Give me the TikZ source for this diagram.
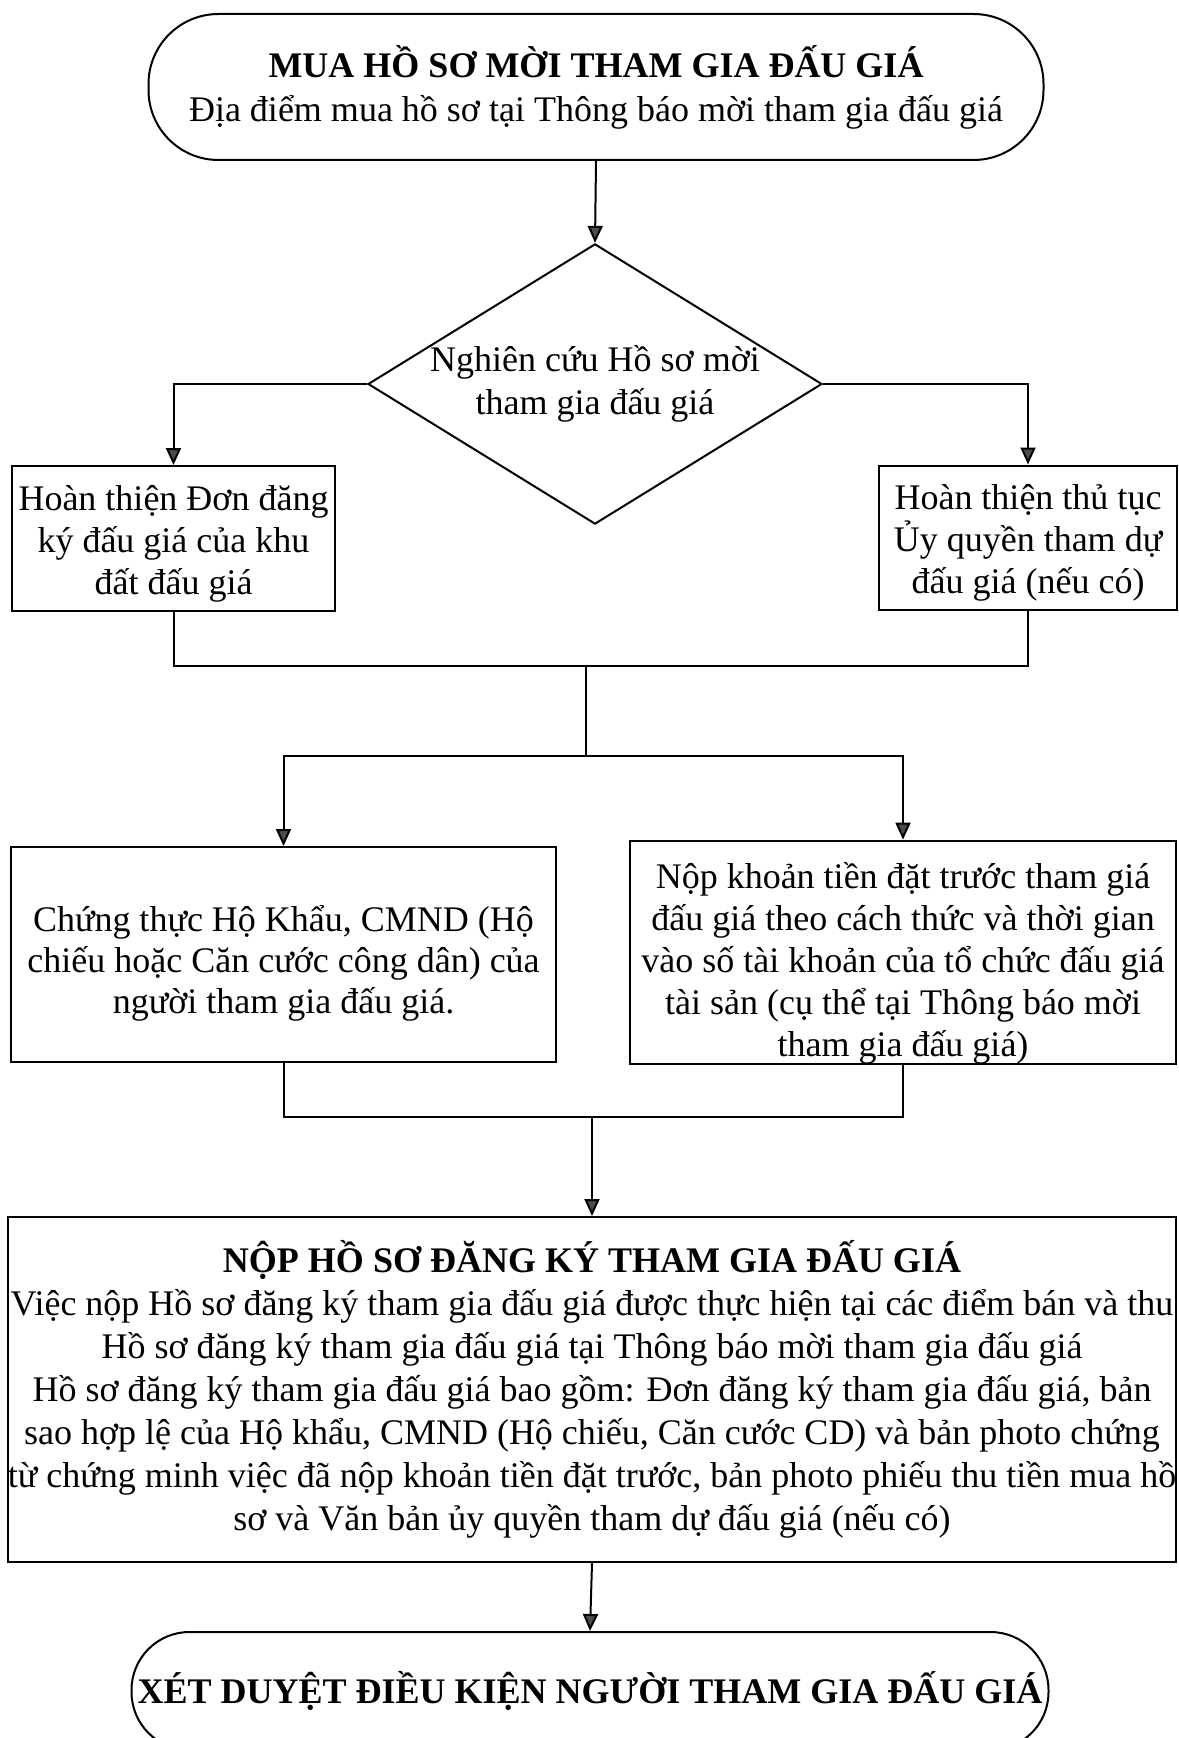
\documentclass[tikz,border=0pt]{standalone}
\usepackage{fontspec}
\setmainfont{Liberation Serif}
\usepackage{tikz}
\usepgflibrary{arrows.meta}
\usetikzlibrary{arrows.meta,shapes.geometric}

\begin{document}
\begin{tikzpicture}
	[x=0.5pt,y=-0.5pt,line width=1pt,
	 box/.style={draw,rectangle,align=center,inner sep=0pt},
	 term/.style={draw,rectangle,align=center,inner sep=0pt},
	 decide/.style={draw,diamond,aspect=1.62,align=center,inner sep=0pt},
	 arr/.style={-{Triangle[length=8.5pt,width=7.5pt,fill=black!70]}}]
	\useasboundingbox (0,0) rectangle (1178,1738);
	\clip (0,0) rectangle (1178,1738);
	% start and end
	\node[term,rounded corners=35pt,minimum width=447.5pt,minimum height=73pt,
		font=\fontsize{18}{22}\selectfont] (buy) at (596,87)
		{\textbf{MUA HỒ SƠ MỜI THAM GIA ĐẤU GIÁ}\\Địa điểm mua hồ sơ tại Thông báo mời tham gia đấu giá};
	\node[term,rounded corners=29pt,minimum width=458.5pt,minimum height=59pt,
		font=\fontsize{18}{22}\selectfont] (review) at (590,1691)
		{\textbf{XÉT DUYỆT ĐIỀU KIỆN NGƯỜI THAM GIA ĐẤU GIÁ}};
	% decision
	\node[decide,minimum width=224.5pt,minimum height=138.5pt,
		font=\fontsize{18}{21.5}\selectfont] (study) at (595,384)
		{Nghiên cứu Hồ sơ mời\\tham gia đấu giá};
	% boxes (the rule lifts the top so the text sits a little lower)
	\node[box,minimum width=161.5pt,minimum height=72.5pt,
		font=\fontsize{18}{21}\selectfont] (form) at (173.5,538.5)
		{\rule{0pt}{17.5pt}Hoàn thiện Đơn đăng\\ký đấu giá của khu\\đất đấu giá};
	\node[box,minimum width=149pt,minimum height=72pt,
		font=\fontsize{18}{21}\selectfont] (proxy) at (1028,537.5)
		{\rule{0pt}{17.5pt}Hoàn thiện thủ tục\\Ủy quyền tham dự\\đấu giá (nếu có)};
	\node[box,minimum width=272.5pt,minimum height=107.5pt,
		font=\fontsize{18}{20.5}\selectfont] (certify) at (283.5,954.5)
		{\rule{0pt}{21.5pt}Chứng thực Hộ Khẩu, CMND (Hộ\\chiếu hoặc Căn cước công dân) của\\người tham gia đấu giá.};
	\node[box,minimum width=273pt,minimum height=107.5pt,
		font=\fontsize{18}{21}\selectfont] (deposit) at (903,952.5)
		{\rule{0pt}{24pt}Nộp khoản tiền đặt trước tham giá\\đấu giá theo cách thức và thời gian\\vào số tài khoản của tổ chức đấu giá\\tài sản (cụ thể tại Thông báo mời\\tham gia đấu giá)};
	\node[box,minimum width=579pt,minimum height=172.5pt,
		font=\fontsize{18}{21.5}\selectfont] (submit) at (592,1389.5)
		{\textbf{NỘP HỒ SƠ ĐĂNG KÝ THAM GIA ĐẤU GIÁ}\\
		Việc nộp Hồ sơ đăng ký tham gia đấu giá được thực hiện tại các điểm bán và thu\\
		Hồ sơ đăng ký tham gia đấu giá tại Thông báo mời tham gia đấu giá\\
		Hồ sơ đăng ký tham gia đấu giá bao gồm: Đơn đăng ký tham gia đấu giá, bản\\
		sao hợp lệ của Hộ khẩu, CMND (Hộ chiếu, Căn cước CD) và bản photo chứng\\
		từ chứng minh việc đã nộp khoản tiền đặt trước, bản photo phiếu thu tiền mua hồ\\
		sơ và Văn bản ủy quyền tham dự đấu giá (nếu có)};
	% joints
	\coordinate (j1) at (586,666);
	\coordinate (s1) at (586,756);
	\coordinate (j2) at (592,1117);
	% arrows
	\draw[arr] (buy.south) -- (study.north);
	\draw[arr] (study.west) -| (form.north);
	\draw[arr] (study.east) -| (proxy.north);
	\draw (form.south) |- (j1) -| (proxy.south);
	\draw (j1) -- (s1);
	\foreach \n in {certify,deposit}
		\draw[arr] (s1) -| (\n.north);
	\draw (certify.south) |- (j2) -| (deposit.south);
	\draw[arr] (j2) -- (submit.north);
	\draw[arr] (submit.south) -- (review.north);
\end{tikzpicture}
\end{document}
